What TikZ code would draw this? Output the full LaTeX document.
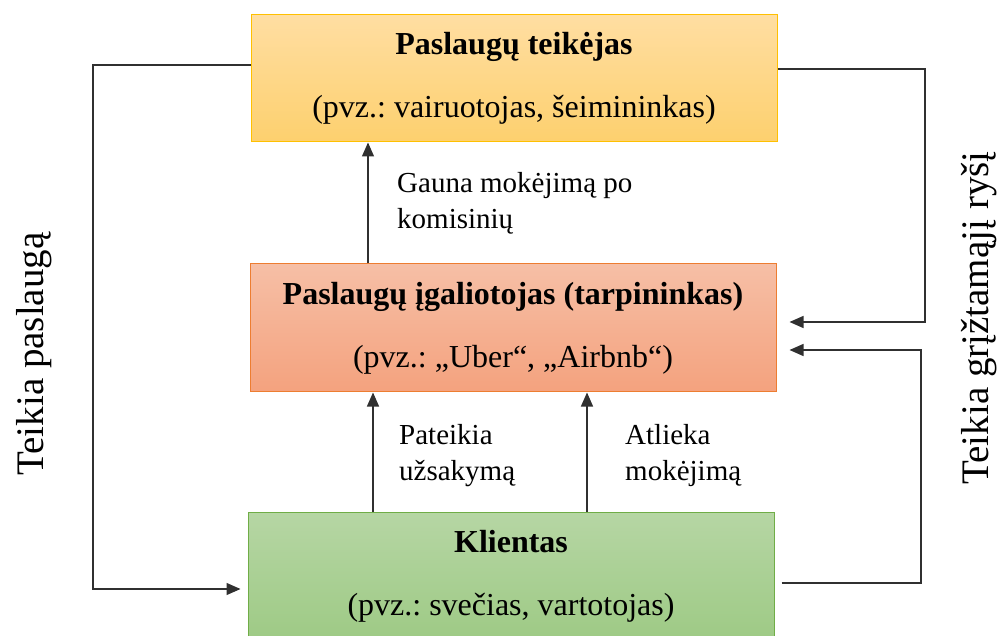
\documentclass[tikz,border=0pt]{standalone}
\usepackage{fontspec}
\setmainfont{Liberation Serif}
\usetikzlibrary{arrows.meta}
\frenchspacing

\definecolor{goldTop}{HTML}{FFDEA2}
\definecolor{goldBot}{HTML}{FDD06E}
\definecolor{goldLine}{HTML}{FFC000}
\definecolor{salmonTop}{HTML}{F6BFA6}
\definecolor{salmonBot}{HTML}{F4A27E}
\definecolor{salmonLine}{HTML}{ED7D31}
\definecolor{greenTop}{HTML}{B6D6A4}
\definecolor{greenBot}{HTML}{9ECA85}
\definecolor{greenLine}{HTML}{70AD47}
\definecolor{wire}{HTML}{303030}

\tikzset{
  role/.style={draw, line width=1pt, rectangle, minimum width=526pt,
    minimum height=128pt, inner sep=0pt, align=center,
    font=\fontsize{32}{63}\selectfont},
  flow/.style={wire, line width=1.3pt,
    -{Triangle[length=14pt,width=12pt]}},
  note/.style={inner sep=0pt, align=left, anchor=base west,
    font=\fontsize{29}{36}\selectfont},
  sidenote/.style={inner sep=0pt, rotate=90,
    font=\fontsize{39}{42}\selectfont}
}

\begin{document}
\begin{tikzpicture}[x=1pt,y=1pt]
\clip (0,0) rectangle (998,635);
\useasboundingbox (0,0) rectangle (998,635);

% three parties
\node[role, color=goldLine, top color=goldTop, bottom color=goldBot,
      text=black, minimum height=127pt] (provider) at (514,556.5)
  {\textbf{Paslaugų teikėjas}\\(pvz.: vairuotojas, šeimininkas)};
\node[role, color=salmonLine, top color=salmonTop, bottom color=salmonBot,
      text=black] (broker) at (513,307)
  {\textbf{Paslaugų įgaliotojas (tarpininkas)}\\(pvz.: „Uber“, „Airbnb“)};
\node[role, color=greenLine, top color=greenTop, bottom color=greenBot,
      text=black] (client) at (511,59)
  {\textbf{Klientas}\\(pvz.: svečias, vartotojas)};

% vertical flows
\draw[flow] ([xshift=-145pt]broker.north) -- ([xshift=-145pt]broker.north |- provider.south);
\draw[flow] ([xshift=-138pt]client.north) -- ([xshift=-138pt]client.north |- broker.south);
\draw[flow] ([xshift=76pt]client.north) -- ([xshift=76pt]client.north |- broker.south);

% labels, anchored at the baseline of their last line
\node[note] (pay) at (397,406) {Gauna mokėjimą po\\komisinių};
\node[note] (order) at (399,155) {Pateikia\\užsakymą};
\node[note] (charge) at (625,155) {Atlieka\\mokėjimą};

% service loop on the left
\coordinate (lt) at (93,570);
\coordinate (lb) at (93,46);
\draw[flow, shorten >=7pt] ([yshift=13.5pt]provider.west) -- (lt) -- (lb) -- (lb -| client.west);

% feedback loops on the right
\coordinate (rt1) at (925,566);
\coordinate (rb1) at (925,313);
\coordinate (rt2) at (921,52);
\coordinate (rb2) at (921,285);
\draw[flow, shorten >=13pt] ([yshift=9.5pt]provider.east) -- (rt1) -- (rb1) -- (rb1 -| broker.east);
\draw[flow, shorten >=13pt, shorten <=7pt] (rt2 -| client.east) -- (rt2) -- (rb2) -- (rb2 -| broker.east);

\node[sidenote] (service) at (34,281) {Teikia paslaugą};
\node[sidenote] (feedback) at (979,317) {Teikia grįžtamąjį ryšį};
\end{tikzpicture}
\end{document}
